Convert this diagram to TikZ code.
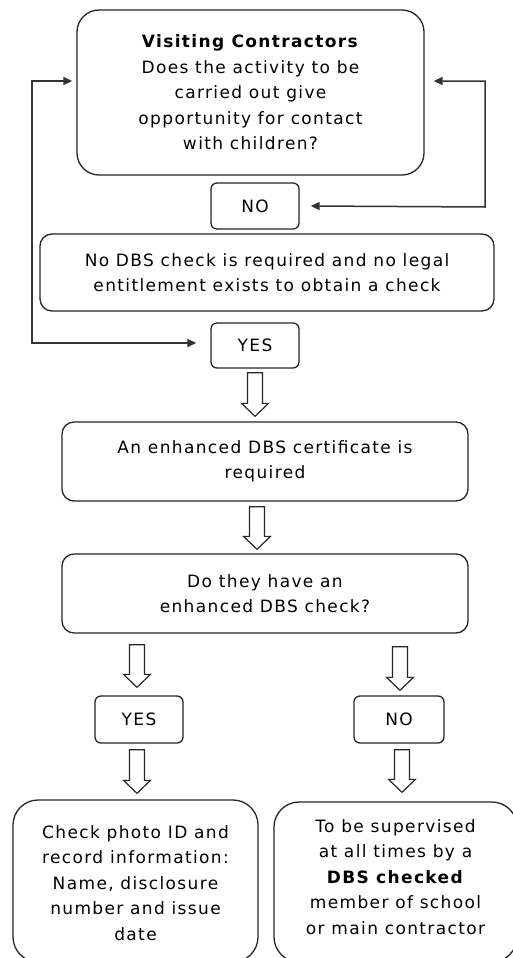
\documentclass[tikz,border=0pt]{standalone}
\usepackage{fontspec}
\setmainfont{DejaVu Sans}[LetterSpace=8.0]
\usetikzlibrary{arrows.meta,calc}
\begin{document}
\begin{tikzpicture}[x=1pt,y=-1pt,
  box/.style={draw=black!85,line width=1.3pt,align=center,inner sep=0pt,
    font=\fontsize{17}{25.5}\selectfont},
  bigbox/.style={box,rounded corners=22pt},
  midbox/.style={box,rounded corners=12pt},
  smallbox/.style={box,rounded corners=6pt},
  link/.style={draw=black!80,line width=1.5pt,{Triangle[length=9pt,width=8pt]}-{Triangle[length=9pt,width=8pt]}},
  hollow/.style={draw=black!85,line width=1.2pt,fill=white,line join=miter}]
\useasboundingbox (0,0) rectangle (513,958);
\fill[white] (0,0) rectangle (513,958);

\node[bigbox,minimum width=347pt,minimum height=165pt] (top) at (250.5,92.5)
  {\textbf{Visiting Contractors}\\Does the activity to be\\carried out give\\opportunity for contact\\with children?};
\node[smallbox,minimum width=88pt,minimum height=46pt] (no1) at (255,206) {NO};
\node[midbox,minimum width=454pt,minimum height=77pt] (nodbs) at (267,272.5)
  {No DBS check is required and no legal\\entitlement exists to obtain a check};
\node[smallbox,minimum width=88pt,minimum height=45pt] (yes1) at (255,345.5) {YES};
\node[midbox,minimum width=406pt,minimum height=79pt] (enh) at (265,461.5)
  {An enhanced DBS certificate is\\required};
\node[midbox,minimum width=406pt,minimum height=79pt] (doq) at (265,593.5)
  {Do they have an\\enhanced DBS check?};
\node[smallbox,minimum width=88pt,minimum height=47pt] (yes2) at (139,719.5) {YES};
\node[smallbox,minimum width=90pt,minimum height=47pt] (no2) at (399,719.5) {NO};
\node[bigbox,rounded corners=25pt,minimum width=245pt,minimum height=162pt] (chk) at (135.5,881) {};
\node[box,draw=none,anchor=center] (chkt) at (135.5,883)
  {Check photo ID and\\record information:\\Name, disclosure\\number and issue\\date};
\node[bigbox,rounded corners=25pt,minimum width=243pt,minimum height=160pt] (sup) at (395.5,882) {};
\node[box,draw=none,anchor=center] (supt) at (395.5,877)
  {To be supervised\\at all times by a\\\textbf{DBS checked}\\member of school\\or main contractor};

% side connectors
\coordinate (rc) at (485,207);
\coordinate (lc) at (32,343);
\draw[link] ([xshift=9pt,yshift=11.5pt]top.east) -| (rc) -- ([xshift=11pt]no1.east);
\draw[link] ([xshift=-4pt,yshift=11.5pt]top.west) -| (lc) -- ([xshift=-14pt,yshift=2.5pt]yes1.west);

% hollow block arrows
\newcommand\harrow[5]{%
  \coordinate (hx) at (#1,0);
  \coordinate (hs) at ($(hx |- #2.south)+(0,#4)$);
  \coordinate (he) at ($(hx |- #3.north)+(0,-#5)$);
  \draw[hollow] ($(hs)+(-7.5,0)$) -- ($(he)+(-7.5,-13)$) -- ($(he)+(-13.5,-13)$)
    -- (he) -- ($(he)+(13.5,-13)$) -- ($(he)+(7.5,-13)$) -- ($(hs)+(7.5,0)$) -- cycle;}
\harrow{255}{yes1}{enh}{4}{5}
\harrow{257}{enh}{doq}{5}{4}
\harrow{137}{doq}{yes2}{11}{8}
\harrow{400}{doq}{no2}{13}{5}
\harrow{137}{yes2}{chk}{6}{6}
\harrow{402}{no2}{sup}{6}{9}
\end{tikzpicture}
\end{document}
